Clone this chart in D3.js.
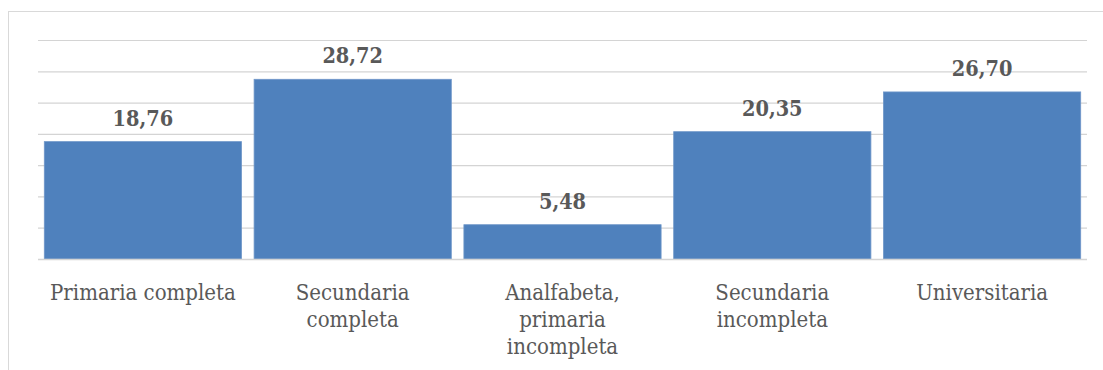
<!DOCTYPE html>
<html>
<head>
<meta charset="utf-8">
<script src="https://cdn.jsdelivr.net/npm/d3@7"></script>
<style>
  html, body { margin: 0; padding: 0; background: #fff; }
  svg { display: block; }
</style>
</head>
<body>
<svg id="chart" width="1103" height="370"></svg>
<script>
// Nivel educativo: porcentaje por categoría
const categories = [
  ["Primaria completa"],
  ["Secundaria", "completa"],
  ["Analfabeta,", "primaria", "incompleta"],
  ["Secundaria", "incompleta"],
  ["Universitaria"]
];
const values = [18.76, 28.72, 5.48, 20.35, 26.70];
const yTicks = [0, 5, 10, 15, 20, 25, 30, 35];

const svg = d3.select("#chart");
const margin = { left: 38, right: 16, top: 40, bottom: 111 };
const W = 1103, H = 370;
const plotH = H - margin.top - margin.bottom;

// Chart area frame
svg.append("rect")
  .attr("x", 8.5).attr("y", 11.5)
  .attr("width", 1110).attr("height", 400)
  .attr("fill", "none")
  .attr("stroke", "#d9d9d9")
  .attr("stroke-width", 1);

const x = d3.scaleBand()
  .domain(d3.range(values.length))
  .range([margin.left, W - margin.right])
  .paddingInner(0.06)
  .paddingOuter(0.03);

const y = d3.scaleLinear()
  .domain([0, 35])
  .range([margin.top + plotH, margin.top]);

// Horizontal gridlines
const yAxis = d3.axisLeft(y).tickValues(yTicks)
  .tickSize(-(W - margin.left - margin.right)).tickFormat("");
const ga = svg.append("g")
  .attr("transform", `translate(${margin.left},0)`)
  .call(yAxis);
ga.select(".domain").remove();
ga.selectAll(".tick line")
  .attr("stroke", "#d4d4d4")
  .attr("stroke-width", 1.2);

// Bars
svg.append("g").selectAll("rect")
  .data(values)
  .join("rect")
  .attr("x", (d, i) => x(i))
  .attr("y", d => y(d))
  .attr("width", x.bandwidth())
  .attr("height", d => y(0) - y(d))
  .attr("fill", "#4f81bd")
  .attr("stroke", "#6f97c9")
  .attr("stroke-width", 0.8);

// Baseline
svg.append("line")
  .attr("x1", margin.left).attr("x2", W - margin.right)
  .attr("y1", y(0) + 0.5).attr("y2", y(0) + 0.5)
  .attr("stroke", "#d4d4d4")
  .attr("stroke-width", 1.5);

// Value labels
const fmt = d => d.toFixed(2).replace(".", ",");
svg.append("g").selectAll("text")
  .data(values)
  .join("text")
  .attr("x", (d, i) => x(i) + x.bandwidth() / 2)
  .attr("y", d => y(d) - 16)
  .attr("text-anchor", "middle")
  .attr("font-family", "'DejaVu Serif Condensed', 'DejaVu Serif', serif")
  .attr("font-stretch", "condensed")
  .attr("font-weight", "bold")
  .attr("font-size", 21.5)
  .attr("fill", "#595959")
  .text(fmt);

// Category labels
const cat = svg.append("g").selectAll("text")
  .data(categories)
  .join("text")
  .attr("x", (d, i) => x(i) + x.bandwidth() / 2)
  .attr("y", y(0) + 41)
  .attr("text-anchor", "middle")
  .attr("font-family", "'DejaVu Serif Condensed', 'DejaVu Serif', serif")
  .attr("font-stretch", "condensed")
  .attr("font-size", 22)
  .attr("fill", "#595959");
cat.selectAll("tspan")
  .data(d => d)
  .join("tspan")
  .attr("x", function () { return d3.select(this.parentNode).attr("x"); })
  .attr("dy", (d, i) => i === 0 ? 0 : 27)
  .text(d => d);
</script>
</body>
</html>
